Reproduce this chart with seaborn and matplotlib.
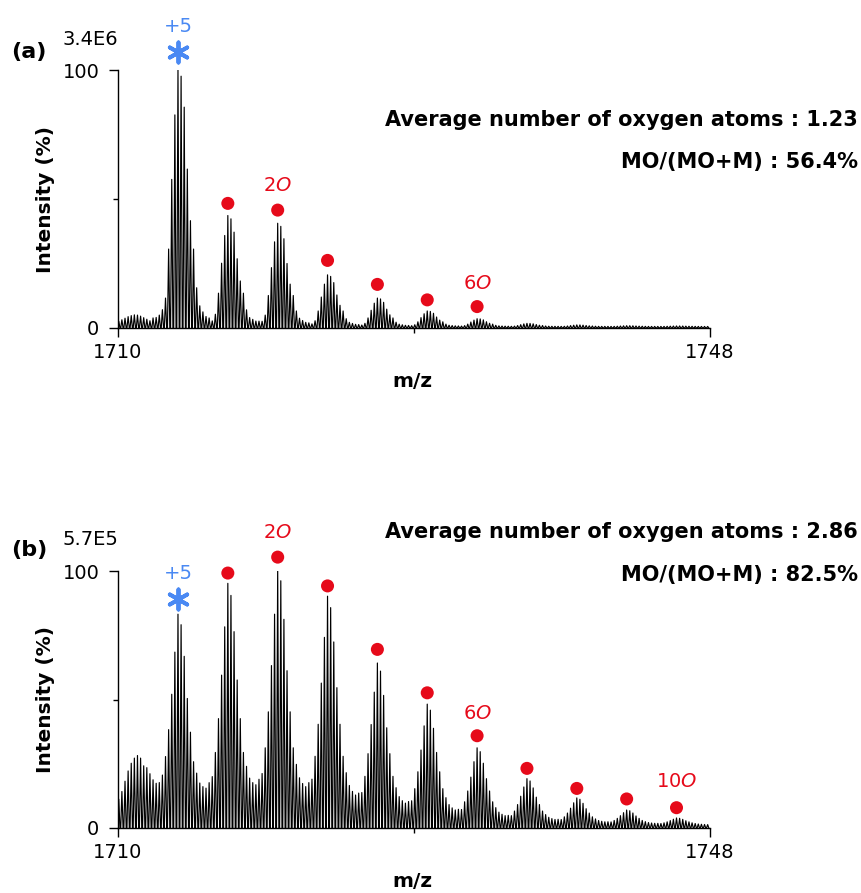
import numpy as np
import pandas as pd
import seaborn as sns
import matplotlib.pyplot as plt
from matplotlib.ticker import FixedLocator

# m/z of the cluster maxima (charge +5, one extra oxygen = 3.2 m/z)
cluster_mz = [1713.85, 1717.05, 1720.25, 1723.45, 1726.65, 1729.85,
              1733.05, 1736.25, 1739.45, 1742.65, 1745.85]
heights_a = [100, 43, 40, 20, 11, 6, 3, 1.2, 0.6, 0.3, 0.2]
heights_b = [82, 94, 100, 89, 63, 47, 30, 18, 10.5, 5.8, 2.7]

# relative stick heights inside one isotope cluster (sticks 0.2 m/z apart)
pattern_a = [0.015, 0.02, 0.03, 0.05, 0.11, 0.3, 0.57, 0.82, 1.0, 0.97, 0.85,
             0.61, 0.41, 0.3, 0.15, 0.08, 0.05, 0.03, 0.02]
pattern_b = [0.04, 0.06, 0.08, 0.1, 0.14, 0.2, 0.3, 0.44, 0.62, 0.82, 1.0,
             0.95, 0.8, 0.6, 0.44, 0.3, 0.2, 0.13, 0.09, 0.06, 0.04]

# low hump at the start of the window (sticks from 1710.05)
lead_a = [2, 2.6, 3.2, 3.8, 4.2, 4.5, 4.4, 4, 3.4, 2.8, 2.2, 1.8, 1.5, 1.4, 1.5]
lead_b = [10, 13, 17, 21, 24, 26, 27, 26, 23, 19, 15, 11, 8, 5, 3, 2, 1]

# noise floor under the whole spectrum
floor_a = 0.6
floor_b = 1.2

# oxygen markers
dot_mz_a = [1717.05, 1720.25, 1723.45, 1726.65, 1729.85, 1733.05]
dot_y_a = [48.3, 45.7, 26.2, 16.9, 10.9, 8.3]
dot_mz_b = [1717.05, 1720.25, 1723.45, 1726.65, 1729.85, 1733.05,
            1736.25, 1739.45, 1742.65, 1745.85]
dot_y_b = [99.2, 105.4, 94.2, 69.5, 52.6, 35.9, 23.2, 15.4, 11.3, 7.9]

ox_labels_a = [('2', 1720.25, 55.4), ('6', 1733.05, 17.4)]
ox_labels_b = [('2', 1720.25, 114.8), ('6', 1733.05, 44.7), ('10', 1745.85, 17.9)]

star_y = [107.1, 89.1]
plus5_y = [116.8, 99.2]
tags = ['(a)', '(b)']
scales = ['3.4E6', '5.7E5']
avg_o = ['1.23', '2.86']
mo_ratio = ['56.4%', '82.5%']

STEP = 0.2
START = 1710.05
BLUE = '#4a89f3'
RED = '#e60a1a'


def build(heights, pattern, lead, floor):
    peak = int(np.argmax(pattern))
    n = int(round((1748 - START) / STEP))
    y = np.full(n, float(floor))
    y[:len(lead)] += lead
    for mz, h in zip(cluster_mz, heights):
        c = int(round((mz - START) / STEP))
        for i, p in enumerate(pattern):
            j = c + i - peak
            if 0 <= j < n:
                y[j] += h * p
    mz = START + STEP * np.arange(n)
    # each isotope peak drawn as a narrow profile
    half = 0.075
    xs = np.column_stack([mz - half, mz, mz + half]).ravel()
    ys = np.column_stack([np.zeros(n), y, np.zeros(n)]).ravel()
    return pd.DataFrame({'mz': xs, 'intensity': ys})


sns.set_style('ticks')
plt.rcParams['font.family'] = ['DejaVu Sans']
plt.rcParams['mathtext.fontset'] = 'dejavusans'
for key in ['text.color', 'axes.labelcolor', 'xtick.color', 'ytick.color',
            'axes.edgecolor']:
    plt.rcParams[key] = 'black'

fig = plt.figure(figsize=(8.61, 8.93), dpi=100)
ax_a = fig.add_axes([0.13705, 0.63270, 0.68757, 0.28891])
ax_b = fig.add_axes([0.13705, 0.07279, 0.68757, 0.28779])

panels = [
    (ax_a, heights_a, pattern_a, lead_a, floor_a, dot_mz_a, dot_y_a, ox_labels_a,
     1.070, 1.118, (0.806, 0.643), -0.209),
    (ax_b, heights_b, pattern_b, lead_b, floor_b, dot_mz_b, dot_y_b, ox_labels_b,
     1.082, 1.123, (1.152, 0.984), -0.21),
]

for k, (ax, h, pat, lead, fl, dmz, dy, oxl, tag_y, sc_y, txt_y, xl_y) in enumerate(panels):
    df = build(h, pat, lead, fl)
    sns.lineplot(data=df, x='mz', y='intensity', sort=False, estimator=None,
                 color='black', lw=0.85, ax=ax)
    sns.scatterplot(x=dmz, y=dy, color=RED, s=88, edgecolor='none',
                    clip_on=False, ax=ax, zorder=5)
    ax.scatter([cluster_mz[0]], [star_y[k]], marker=(6, 2, 0), s=210,
               linewidths=2.8, color=BLUE, clip_on=False, zorder=5)
    ax.text(cluster_mz[0], plus5_y[k], '+5', color=BLUE, fontsize=14,
            ha='center', va='center')
    for num, x, y in oxl:
        ax.text(x, y, num + r'$\mathit{O}$', color=RED, fontsize=14,
                ha='center', va='center')

    ax.set_xlim(1710, 1748)
    ax.set_ylim(0, 100)
    sns.despine(ax=ax)
    for s in ['left', 'bottom']:
        ax.spines[s].set_linewidth(1.0)
        ax.spines[s].set_color('black')
    ax.set_xticks([1710, 1748])
    ax.set_yticks([0, 100])
    ax.xaxis.set_minor_locator(FixedLocator([1729]))
    ax.yaxis.set_minor_locator(FixedLocator([50]))
    ax.tick_params(which='major', length=6.5, width=1, labelsize=14, color='black')
    ax.tick_params(axis='x', which='major', pad=4)
    ax.tick_params(axis='y', which='major', pad=7)
    ax.tick_params(which='minor', length=3.5, width=1, color='black')

    ax.set_xlabel('m/z', fontsize=14.5, fontweight='bold')
    ax.set_ylabel('Intensity (%)', fontsize=14.5, fontweight='bold')
    ax.xaxis.label.set_va('center')
    ax.xaxis.set_label_coords(0.498, xl_y)
    ax.yaxis.set_label_coords(-0.106, 0.5)

    ax.text(-0.15, tag_y, tags[k], transform=ax.transAxes, fontsize=16,
            fontweight='bold', ha='center', va='center')
    ax.text(0.0, sc_y, scales[k], transform=ax.transAxes, fontsize=14,
            ha='right', va='center')
    ax.text(1.25, txt_y[0], 'Average number of oxygen atoms : ' + avg_o[k],
            transform=ax.transAxes, fontsize=15, fontweight='bold',
            ha='right', va='center')
    ax.text(1.25, txt_y[1], 'MO/(MO+M) : ' + mo_ratio[k],
            transform=ax.transAxes, fontsize=15, fontweight='bold',
            ha='right', va='center')

plt.savefig('out.png', dpi=100)
